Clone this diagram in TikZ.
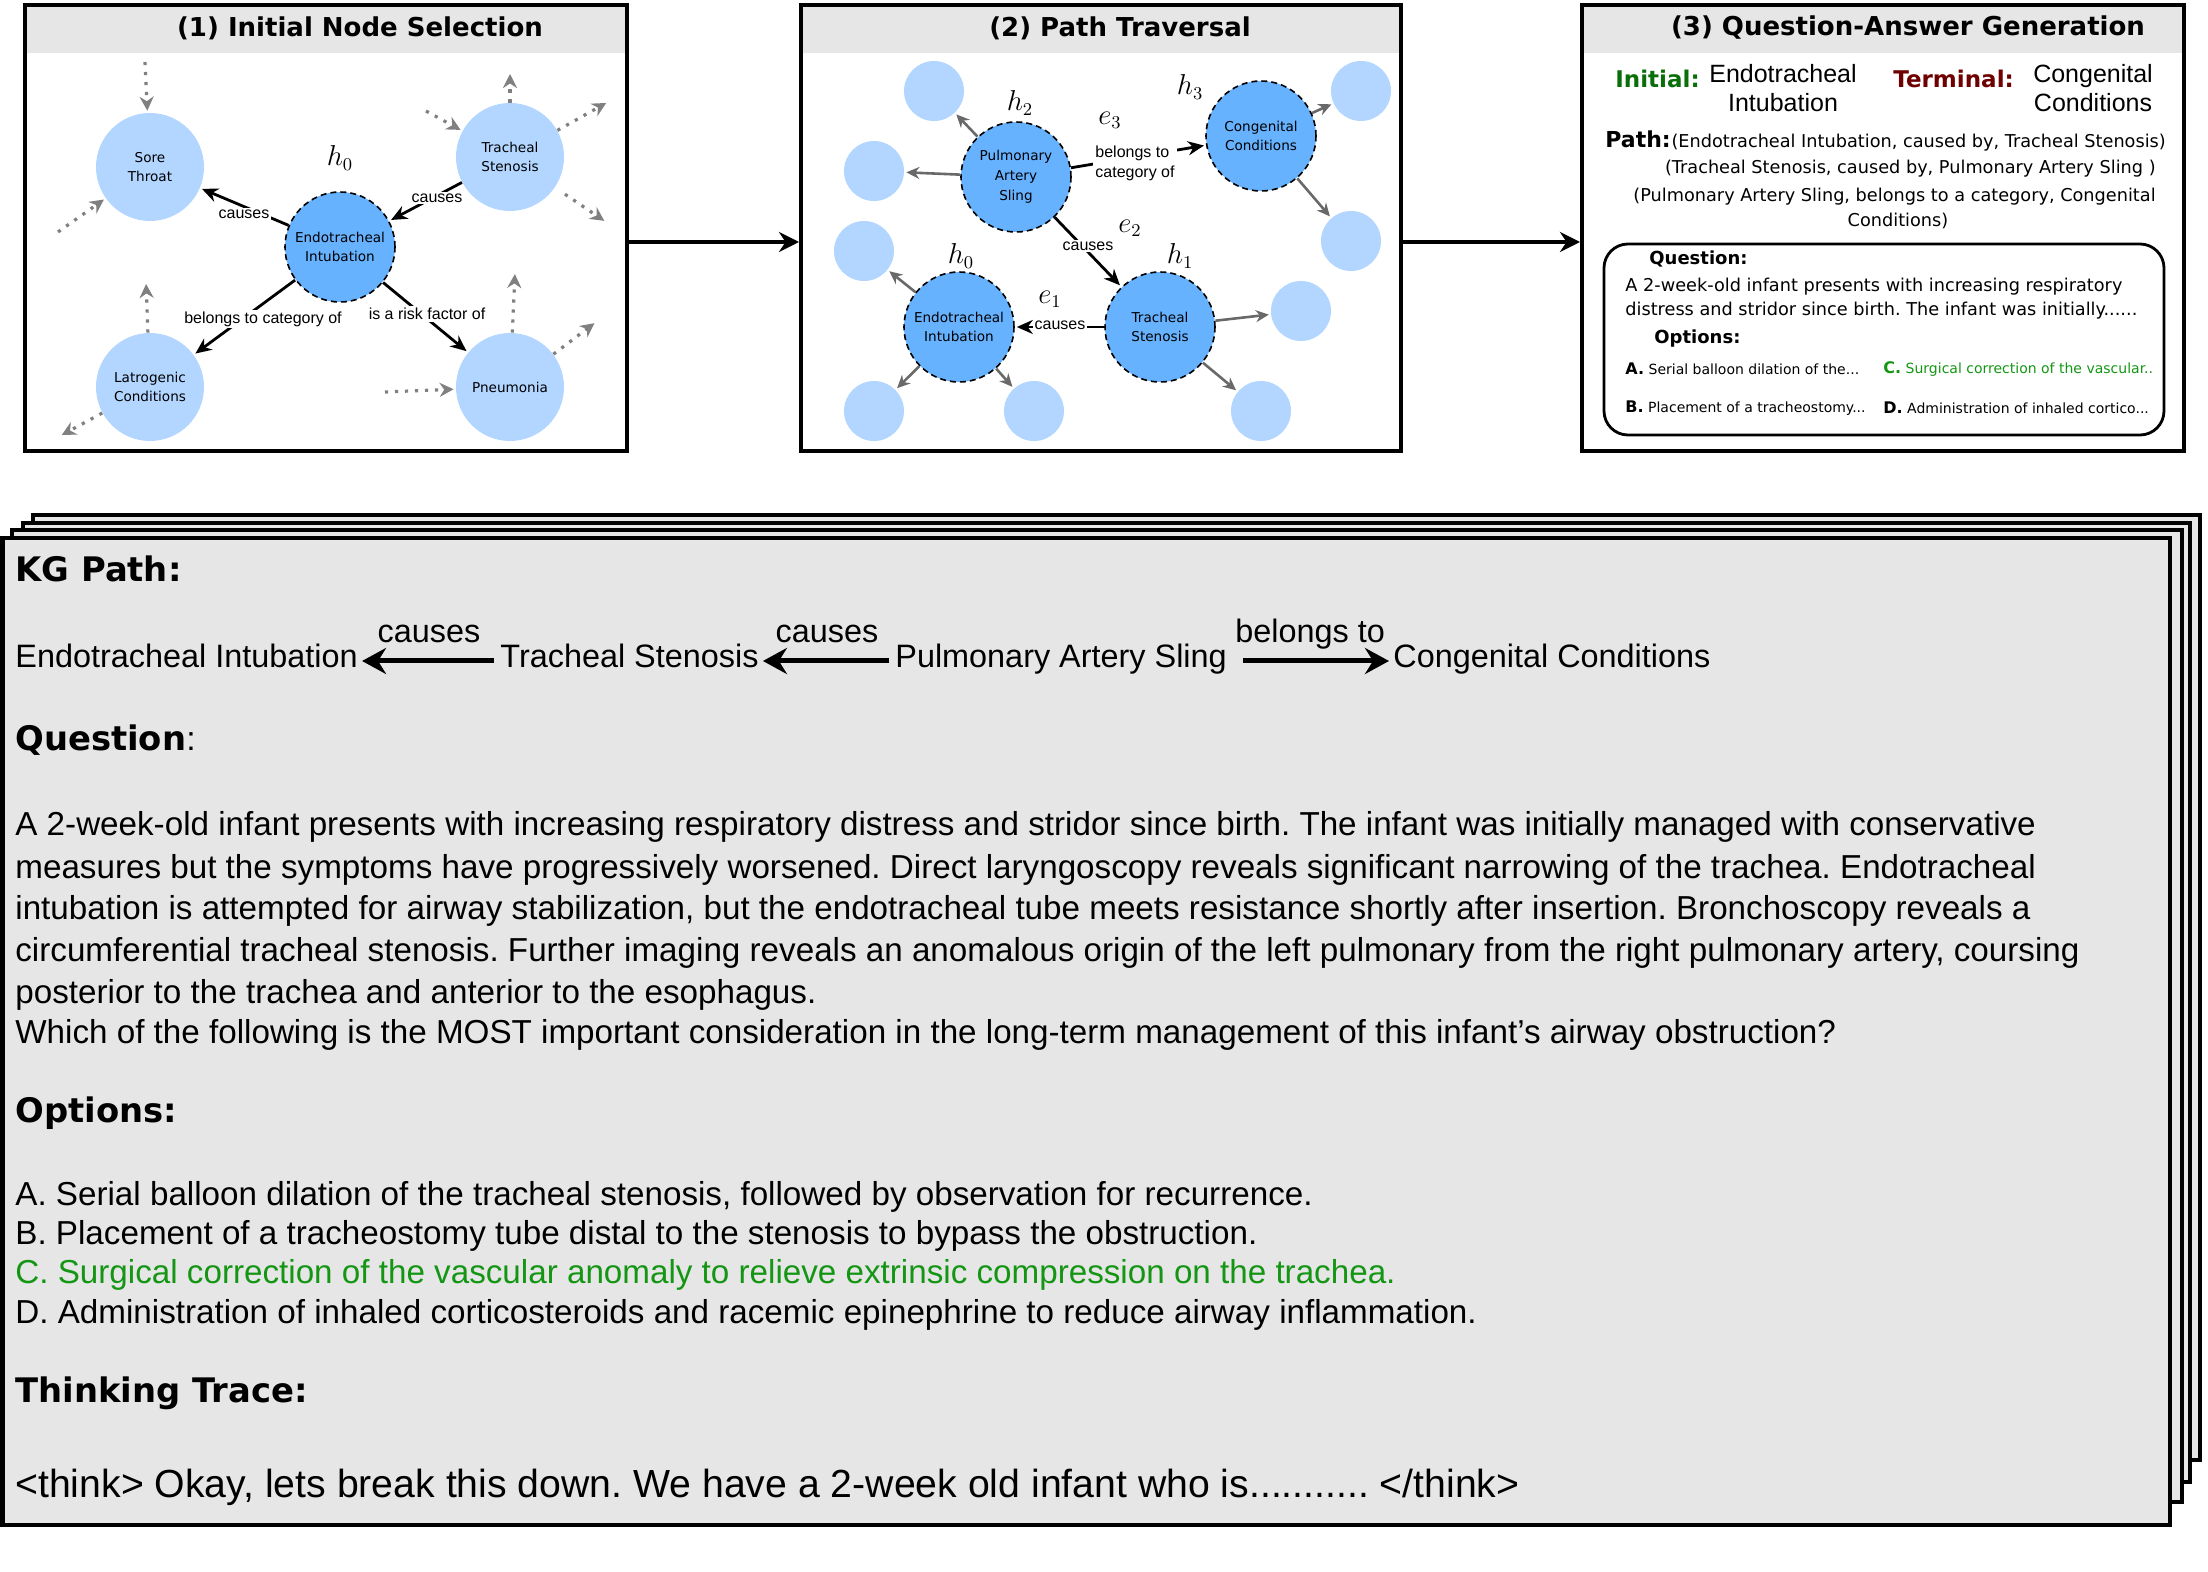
\documentclass[tikz,border=0pt]{standalone}
\usepackage{amsmath}
\usepackage{fontspec}
\setmainfont{Liberation Sans}
\newfontfamily\dejavu{DejaVu Sans}
\usepackage{xcolor}
\usetikzlibrary{positioning,arrows.meta}

\definecolor{bandgray}{RGB}{230,230,230}
\definecolor{cardgray}{RGB}{230,230,230}
\definecolor{lightnode}{RGB}{178,214,255}
\definecolor{darknode}{RGB}{102,178,255}
\definecolor{initgreen}{RGB}{10,110,10}
\definecolor{termred}{RGB}{110,0,0}
\definecolor{answergreen}{RGB}{20,150,20}
\definecolor{dotgray}{RGB}{128,128,128}
\definecolor{edgegray}{RGB}{105,105,105}

\newcommand{\setfs}[2]{\fontsize{#1}{#2}\selectfont}
\frenchspacing

\begin{document}
\begin{tikzpicture}[
    x=0.5pt, y=-0.5pt,
    panel/.style={draw, line width=2pt, inner sep=0pt},
    ptitle/.style={font=\dejavu\bfseries\setfs{13}{15}, inner sep=0pt},
    flow/.style={-{Stealth[length=10pt,width=10pt]}, line width=2pt},
    lnode/.style={circle, fill=lightnode, minimum size=54pt, inner sep=0pt, align=center, font=\dejavu\setfs{6.8}{9.9}},
    dnode/.style={lnode, fill=darknode, draw, densely dashed, line width=0.8pt, minimum size=55pt},
    leaf/.style={circle, fill=lightnode, minimum size=30pt, inner sep=0pt},
    hlabel/.style={inner sep=0pt, font=\setfs{13.5}{16}},
    elabel/.style={fill=white, inner sep=1pt, align=left, font=\setfs{8}{10}},
    edge/.style={-{Stealth[length=8pt,width=7pt]}, line width=1.4pt, shorten >=1pt},
    gedge/.style={-{Stealth[length=6.5pt,width=6pt]}, line width=1.3pt, draw=edgegray, shorten >=1pt},
    dotarrow/.style={-{Stealth[length=7pt,width=7pt]}, draw=dotgray, line width=1.6pt, dash pattern=on 1.6pt off 3.4pt, shorten >=1pt},
    plabel/.style={font=\dejavu\bfseries\setfs{11.5}{14}, inner sep=0pt, anchor=west},
    pvalue/.style={font=\setfs{12.5}{14.5}, align=center, inner sep=0pt},
    ptext/.style={font=\dejavu\setfs{8.85}{12}, inner sep=0pt},
    qhead/.style={font=\dejavu\bfseries\setfs{9}{11}, inner sep=0pt, anchor=west},
    otext/.style={font=\dejavu\setfs{7}{9}, inner sep=0pt, anchor=west},
    qaframe/.style={draw, line width=1.4pt, rounded corners=12pt},
    card/.style={draw, line width=2.2pt, fill=cardgray},
    khead/.style={font=\dejavu\bfseries\setfs{16.9}{20}, inner sep=0pt, anchor=base west},
    ktext/.style={font=\setfs{16.6}{21}, inner sep=0pt, anchor=base west},
    kpath/.style={font=\setfs{16.2}{21}, inner sep=0pt, anchor=west, text height=11pt, text depth=4pt},
    karrow/.style={-{Stealth[length=12pt,width=13pt,inset=4pt]}, line width=2.5pt, shorten <=3pt, shorten >=2pt},
    klabel/.style={font=\setfs{16.2}{21}, inner sep=0pt, text depth=0pt, above=8pt}
  ]
  \useasboundingbox (0,0) rectangle (2208,1572);

  % panel frames
  \fill[bandgray] (25,5) rectangle (627,53);
  \fill[bandgray] (801,5) rectangle (1401,53);
  \fill[bandgray] (1582,5) rectangle (2184,53);
  \node[panel, minimum width=301pt, minimum height=223pt] (p1) at (326,228) {};
  \node[panel, minimum width=300pt, minimum height=223pt] (p2) at (1101,228) {};
  \node[panel, minimum width=301pt, minimum height=223pt] (p3) at (1883,228) {};
  \node[ptitle] (t1) at (360,28) {(1) Initial Node Selection};
  \node[ptitle] (t2) at (1120,28) {(2) Path Traversal};
  \node[ptitle] (t3) at (1908,28) {(3) Question-Answer Generation};
  \draw[flow] ([yshift=-7pt]p1.east) -- ([yshift=-7pt]p2.west);
  \draw[flow] ([yshift=-7pt]p2.east) -- ([yshift=-7pt]p3.west);

  % (1) initial node selection
  \node[lnode] (sore) at (150,167) {Sore\\Throat};
  \node[lnode] (trach) at (510,157) {Tracheal\\Stenosis};
  \node[dnode] (endo) at (340,247) {Endotracheal\\Intubation};
  \node[lnode] (latro) at (150,387) {Latrogenic\\Conditions};
  \node[lnode] (pneu) at (510,387) {Pneumonia};
  \node[hlabel] (h0a) at (340,158) {$h_0$};
  \draw[edge] (endo) -- (sore);
  \draw[edge] (trach) -- (endo);
  \draw[edge] (endo) -- (latro);
  \draw[edge] (endo) -- (pneu);
  \node[elabel] (causes-a) at (244,214) {causes};
  \node[elabel] (causes-b) at (437,198) {causes};
  \node[elabel] (belongs-a) at (263,319) {belongs to category of};
  \node[elabel] (risk-a) at (427,314) {is a risk factor of};
  \coordinate (sore-in1) at (145,62);
  \coordinate (sore-in2) at (58,232);
  \coordinate (trach-out1) at (510,72);
  \coordinate (trach-in1) at (426,111);
  \coordinate (trach-out2) at (608,102);
  \coordinate (trach-out3) at (606,222);
  \coordinate (latro-out1) at (146,282);
  \coordinate (latro-out2) at (60,436);
  \coordinate (pneu-out1) at (515,272);
  \coordinate (pneu-out2) at (596,322);
  \coordinate (pneu-in1) at (385,392);
  \draw[dotarrow] (sore-in1) -- (sore);
  \draw[dotarrow] (sore-in2) -- (sore);
  \draw[dotarrow] (trach) -- (trach-out1);
  \draw[dotarrow] (trach-in1) -- (trach);
  \draw[dotarrow] (trach) -- (trach-out2);
  \draw[dotarrow, shorten <=6pt] (trach) -- (trach-out3);
  \draw[dotarrow] (latro) -- (latro-out1);
  \draw[dotarrow] (latro) -- (latro-out2);
  \draw[dotarrow] (pneu) -- (pneu-out1);
  \draw[dotarrow] (pneu) -- (pneu-out2);
  \draw[dotarrow] (pneu-in1) -- (pneu);

  % (2) path traversal
  \node[leaf] (pas-l1) at (934,91) {};
  \node[leaf] (pas-l2) at (874,171) {};
  \node[leaf] (ei-l1) at (864,251) {};
  \node[leaf] (ei-l2) at (874,411) {};
  \node[leaf] (ei-l3) at (1034,411) {};
  \node[leaf] (cc-l1) at (1361,91) {};
  \node[leaf] (cc-l2) at (1351,241) {};
  \node[leaf] (ts-l1) at (1301,311) {};
  \node[leaf] (ts-l2) at (1261,411) {};
  \node[dnode] (pas) at (1016,177) {Pulmonary\\Artery\\Sling};
  \node[dnode] (cc) at (1261,136) {Congenital\\Conditions};
  \node[dnode] (ei) at (959,327) {Endotracheal\\Intubation};
  \node[dnode] (ts) at (1160,327) {Tracheal\\Stenosis};
  \node[hlabel] (h2) at (1020,103) {$h_2$};
  \node[hlabel] (h3) at (1190,87) {$h_3$};
  \node[hlabel] (h0b) at (961,256) {$h_0$};
  \node[hlabel] (h1) at (1180,256) {$h_1$};
  \node[hlabel] (e3) at (1110,120) {$e_3$};
  \node[hlabel] (e2) at (1130,228) {$e_2$};
  \node[hlabel] (e1) at (1050,299) {$e_1$};
  \draw[gedge] (pas) -- (pas-l1);
  \draw[gedge] (pas) -- (pas-l2);
  \draw[gedge] (ei) -- (ei-l1);
  \draw[gedge] (ei) -- (ei-l2);
  \draw[gedge] (ei) -- (ei-l3);
  \draw[gedge] (cc) -- (cc-l1);
  \draw[gedge] (cc) -- (cc-l2);
  \draw[gedge] (ts) -- (ts-l1);
  \draw[gedge] (ts) -- (ts-l2);
  \draw[edge] (pas) -- (cc);
  \draw[edge] (pas) -- (ts);
  \draw[edge] (ts) -- (ei);
  \node[elabel] (belongs-b) at (1135,163) {belongs to\\category of};
  \node[elabel] (causes-c) at (1088,246) {causes};
  \node[elabel] (causes-d) at (1060,325) {causes};

  % (3) question-answer generation
  \node[plabel, text=initgreen] (initlbl) at (1615,79) {Initial:};
  \node[pvalue] (initval) at (1783,88) {Endotracheal\\Intubation};
  \node[plabel, text=termred] (termlbl) at (1893,79) {Terminal:};
  \node[pvalue] (termval) at (2093,88) {Congenital\\Conditions};
  \node[plabel, font=\dejavu\bfseries\setfs{11}{14}] (pathlbl) at (1605,139) {Path:};
  \node[ptext, anchor=base west] (path1) at (pathlbl.base east) {(Endotracheal Intubation, caused by, Tracheal Stenosis)};
  \node[ptext, anchor=east] (path2) at (2156,169) {(Tracheal Stenosis, caused by, Pulmonary Artery Sling )};
  \node[ptext, anchor=east] (path3) at (2156,197) {(Pulmonary Artery Sling, belongs to a category, Congenital};
  \node[ptext] (path4) at (1898,221) {Conditions)};
  \draw[qaframe] (1604,244) rectangle (2164,435);
  \node[qhead] (qalbl) at (1649,259) {Question:};
  \node[ptext, anchor=west] (qa1) at (1625,287) {A 2-week-old infant presents with increasing respiratory};
  \node[ptext, anchor=west] (qa2) at (1625,311) {distress and stridor since birth. The infant was initially......};
  \node[qhead] (oalbl) at (1654,339) {Options:};
  \node[otext] (oa) at (1625,369) {{\setfs{8}{9}\bfseries A.} Serial balloon dilation of the...};
  \node[otext, text=answergreen] (oc) at (1883,369) {{\setfs{8}{9}\bfseries C.} Surgical correction of the vascular..};
  \node[otext] (ob) at (1625,408) {{\setfs{8}{9}\bfseries B.} Placement of a tracheostomy...};
  \node[otext] (od) at (1883,408) {{\setfs{8}{9}\bfseries D.} Administration of inhaled cortico...};

  % stacked sample cards
  \draw[card] (33,515) rectangle (2200,1460);
  \draw[card] (23,523) rectangle (2190,1482);
  \draw[card] (12,530) rectangle (2182,1502);
  \draw[card] (2.5,538) rectangle (2170,1525);

  \node[khead] (kghead) at (15,582) {KG Path:};
  \node[kpath] (kg-ei) at (15,661) {Endotracheal Intubation};
  \node[kpath] (kg-ts) at (500,661) {Tracheal Stenosis};
  \node[kpath] (kg-pas) at (895,661) {Pulmonary Artery Sling};
  \node[kpath] (kg-cc) at (1393,661) {Congenital Conditions};
  \draw[karrow] (kg-ts) -- (kg-ei) node[klabel, midway] {causes};
  \draw[karrow] (kg-pas) -- (kg-ts) node[klabel, midway] {causes};
  \draw[karrow, shorten <=8pt] (kg-pas) -- (kg-cc) node[klabel, midway] {belongs to};

  \node[khead] (qhead) at (15,751) {Question{\mdseries\rmfamily :}};
  \node[ktext] (q1) at (15,836) {A 2-week-old infant presents with increasing respiratory distress and stridor since birth. The infant was initially managed with conservative};
  \node[ktext] (q2) at (15,878) {measures but the symptoms have progressively worsened. Direct laryngoscopy reveals significant narrowing of the trachea. Endotracheal};
  \node[ktext] (q3) at (15,920) {intubation is attempted for airway stabilization, but the endotracheal tube meets resistance shortly after insertion. Bronchoscopy reveals a};
  \node[ktext] (q4) at (15,961) {circumferential tracheal stenosis. Further imaging reveals an anomalous origin of the left pulmonary from the right pulmonary artery, coursing};
  \node[ktext] (q5) at (15,1003) {posterior to the trachea and anterior to the esophagus.};
  \node[ktext] (q6) at (15,1043) {Which of the following is the MOST important consideration in the long-term management of this infant's airway obstruction?};

  \node[khead] (ohead) at (15,1122) {Options:};
  \node[ktext] (opt-a) at (15,1205) {A. Serial balloon dilation of the tracheal stenosis, followed by observation for recurrence.};
  \node[ktext] (opt-b) at (15,1244) {B. Placement of a tracheostomy tube distal to the stenosis to bypass the obstruction.};
  \node[ktext, text=answergreen] (opt-c) at (15,1283) {C. Surgical correction of the vascular anomaly to relieve extrinsic compression on the trachea.};
  \node[ktext] (opt-d) at (15,1323) {D. Administration of inhaled corticosteroids and racemic epinephrine to reduce airway inflammation.};

  \node[khead] (thead) at (15,1402) {Thinking Trace:};
  \node[ktext, font=\setfs{19.6}{24}] (think) at (15,1497) {<think> Okay, lets break this down. We have a 2-week old infant who is........... </think>};
\end{tikzpicture}
\end{document}
